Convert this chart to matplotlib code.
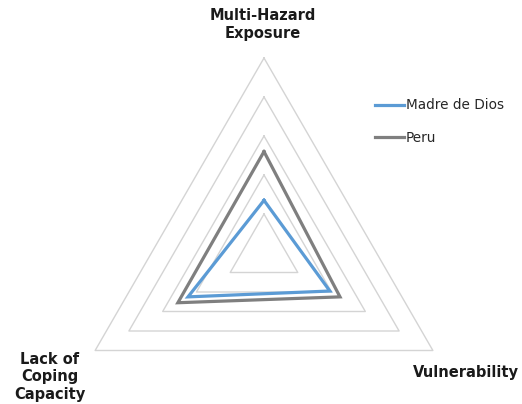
import numpy as np
import matplotlib
matplotlib.use("Agg")
import matplotlib.pyplot as plt

categories = ["Multi-Hazard\nExposure", "Vulnerability", "Lack of\nCoping\nCapacity"]
series_names = ["Madre de Dios", "Peru"]
madre_de_dios = [2.7, 3.9, 4.5]
peru = [5.2, 4.5, 5.1]
grid_levels = [2, 4, 6, 8, 10]

colors = {"Madre de Dios": "#5B9BD5", "Peru": "#7F7F7F"}

W, H = 522, 404
fig = plt.figure(figsize=(W / 100, H / 100), dpi=100)
ax = fig.add_axes([0, 0, 1, 1])
scale = 19.5
cx, cy = 264, 253
ax.set_xlim(-cx / scale, (W - cx) / scale)
ax.set_ylim(-(H - cy) / scale, cy / scale)
ax.axis("off")

n = len(categories)
angles = np.array([i * 2 * np.pi / n for i in range(n)])


def to_xy(vals):
    v = np.asarray(vals, dtype=float)
    v = np.append(v, v[0])
    a = np.append(angles, angles[0])
    return v * np.sin(a), v * np.cos(a)


for lv in grid_levels:
    x, y = to_xy([lv] * n)
    ax.plot(x, y, color="#D4D4D4", lw=1.0, zorder=1)

for name, vals in zip(series_names, [madre_de_dios, peru]):
    x, y = to_xy(vals)
    ax.plot(x, y, color=colors[name], lw=2.3, label=name, zorder=3,
            solid_joinstyle="miter")


def px(xp, yp):
    return (xp - cx) / scale, (cy - yp) / scale


lab_font = dict(fontsize=10.5, fontweight="bold", color="#1a1a1a",
                ha="center", va="center", linespacing=1.25)
ax.text(*px(263, 24), categories[0], **lab_font)
ax.text(*px(466, 373), categories[1], **lab_font)
ax.text(*px(50, 377), categories[2], **lab_font)

leg = ax.legend(loc="upper left", bbox_to_anchor=(370 / W, 1 - 93 / H),
                frameon=False, fontsize=9.8, handlelength=2.1,
                handletextpad=0.15, labelspacing=1.35, borderaxespad=0)
for t in leg.get_texts():
    t.set_color("#262626")

fig.savefig("out.png", dpi=100)
